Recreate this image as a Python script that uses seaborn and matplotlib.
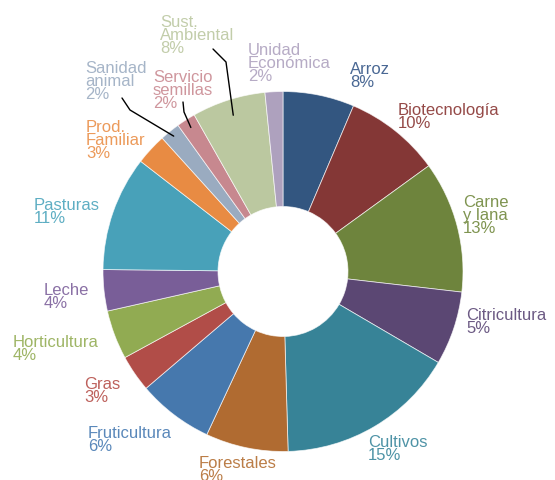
import matplotlib
matplotlib.use("Agg")
import matplotlib.pyplot as plt
import seaborn as sns
import numpy as np

# ---- data ----
categories = ["Arroz", "Biotecnología", "Carne\ny lana", "Citricultura", "Cultivos",
              "Forestales", "Fruticultura", "Gras", "Horticultura", "Leche",
              "Pasturas", "Prod.\nFamiliar", "Sanidad\nanimal", "Servicio\nsemillas",
              "Sust.\nAmbiental", "Unidad\nEconómica"]
slice_sizes = [6.4, 8.6, 11.8, 6.6, 16.1, 7.4, 6.8, 3.3, 4.4, 3.7, 10.3, 2.8, 1.8, 1.7, 6.6, 1.6]
pct_labels = [8, 10, 13, 5, 15, 6, 6, 3, 4, 4, 11, 3, 2, 2, 8, 2]

colors = ["#335680", "#843736", "#6e843d", "#5b4773", "#378397",
          "#b06b31", "#4678ad", "#b14d48", "#91ab52", "#795e98",
          "#48a1b9", "#e88b43", "#9aabc0", "#c7888f", "#bbc8a0", "#aea1be"]
text_colors = ["#4a6894", "#954a48", "#7f9450", "#6c5a84", "#4e93a6",
               "#bb7d47", "#5a88ba", "#bd605b", "#9eb565", "#8a70a5",
               "#5eaec3", "#ec9a5a", "#a6b5c8", "#cf969d", "#c2cdaa", "#b6abc5"]

# ---- layout (pixel positions of label top-left corners) ----
label_pos = [(350, 62), (398, 103), (463, 195), (466, 308), (368, 435),
             (199, 456), (88, 426), (84, 377), (13, 335), (44, 283),
             (34, 198), (86, 120), (85, 61), (153, 70), (160, 15), (248, 43)]
# leader lines: category index -> (start, elbow, radius of end point)
leaders = {14: ((213, 49), (226, 62), 164),
           13: ((183, 102), (184, 112), 171),
           12: ((122, 98), (130, 110), 174)}

W, H = 555, 480
CX, CY, R, RIN = 283, 271.5, 180, 65

sns.set_theme(style="white")
plt.rcParams["font.family"] = ["Liberation Sans", "DejaVu Sans"]

fig = plt.figure(figsize=(W / 100, H / 100), dpi=100)
ax = fig.add_axes([0, 0, 1, 1])
palette = sns.color_palette(colors)
wedges, _ = ax.pie(slice_sizes, colors=palette, startangle=90, counterclock=False,
                   radius=R, center=(CX, H - CY), frame=True,
                   wedgeprops=dict(width=R - RIN, edgecolor=(1, 1, 1, 0.7), linewidth=0.6))
ax.set_xlim(0, W)
ax.set_ylim(0, H)
ax.axis("off")

for i, (name, pct) in enumerate(zip(categories, pct_labels)):
    x, y = label_pos[i]
    ax.text(x, H - y, f"{name}\n{pct}%", color=text_colors[i], fontsize=12,
            ha="left", va="top", linespacing=0.85)

for i, (p0, p1, r) in leaders.items():
    w = wedges[i]
    th = np.deg2rad((w.theta1 + w.theta2) / 2)
    ex, ey = CX + r * np.cos(th), (H - CY) + r * np.sin(th)
    ax.plot([p0[0], p1[0], ex], [H - p0[1], H - p1[1], ey], color="black", lw=1)

fig.savefig("out.png", dpi=100, facecolor="white")
